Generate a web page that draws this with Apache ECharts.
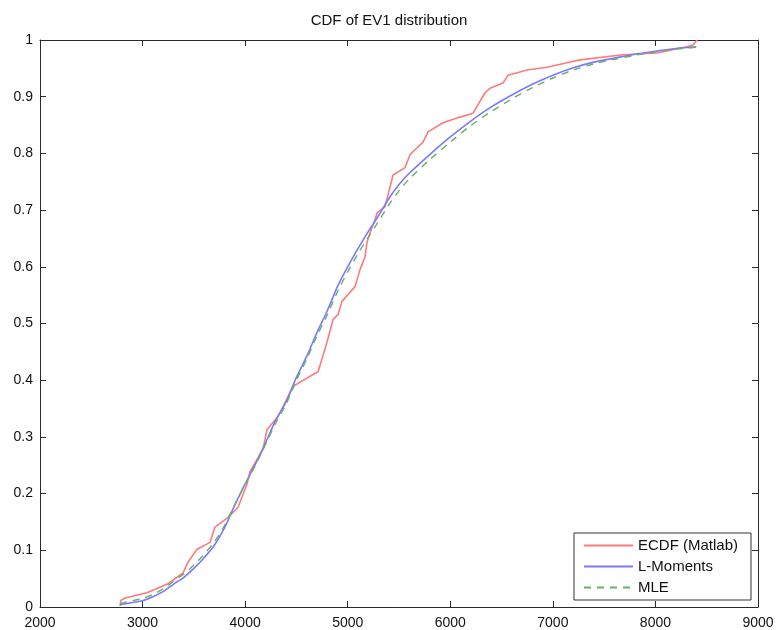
<!DOCTYPE html>
<html>
<head>
<meta charset="utf-8">
<script src="https://cdn.jsdelivr.net/npm/echarts@6/dist/echarts.min.js"></script>
<style>
html,body{margin:0;padding:0;background:#fff;}
#chart{width:778px;height:630px;}
</style>
</head>
<body>
<div id="chart"></div>
<script>
// ECDF (Matlab)
var ecdfX = [2780, 2790, 2830, 3043, 3238, 3394, 3443, 3531, 3658, 3706, 3833, 3931, 4018, 4048, 4174, 4213, 4321, 4467, 4662, 4711, 4798, 4857, 4906, 4944, 5003, 5071, 5120, 5169, 5188, 5218, 5266, 5286, 5364, 5442, 5559, 5608, 5734, 5783, 5929, 6095, 6222, 6339, 6388, 6514, 6563, 6748, 6943, 7138, 7265, 7684, 8016, 8308, 8367, 8406];
var ecdfY = [0.002, 0.012, 0.016, 0.025, 0.040, 0.060, 0.079, 0.102, 0.114, 0.141, 0.158, 0.176, 0.217, 0.239, 0.278, 0.313, 0.336, 0.389, 0.410, 0.415, 0.467, 0.507, 0.516, 0.539, 0.551, 0.565, 0.595, 0.618, 0.643, 0.660, 0.683, 0.695, 0.706, 0.762, 0.775, 0.798, 0.820, 0.838, 0.854, 0.864, 0.871, 0.907, 0.915, 0.924, 0.938, 0.947, 0.952, 0.960, 0.965, 0.974, 0.977, 0.988, 0.991, 1.000];

// L-Moments fitted CDF
var lmX = [2780, 2900, 3000, 3100, 3200, 3300, 3400, 3500, 3600, 3700, 3800, 3900, 4000, 4100, 4200, 4300, 4400, 4500, 4600, 4700, 4800, 4900, 5000, 5100, 5200, 5300, 5400, 5500, 5600, 5800, 6000, 6200, 6400, 6600, 6800, 7000, 7200, 7400, 7600, 7800, 8000, 8200, 8400];
var lmY = [0.004, 0.008, 0.011, 0.018, 0.027, 0.040, 0.052, 0.068, 0.087, 0.109, 0.140, 0.180, 0.217, 0.252, 0.290, 0.330, 0.362, 0.405, 0.442, 0.484, 0.522, 0.565, 0.600, 0.632, 0.662, 0.690, 0.720, 0.745, 0.765, 0.798, 0.829, 0.857, 0.882, 0.903, 0.922, 0.938, 0.951, 0.961, 0.968, 0.975, 0.980, 0.985, 0.988];

// MLE fitted CDF
var mleX = [2780, 2900, 3000, 3100, 3200, 3300, 3400, 3500, 3600, 3700, 3800, 3900, 4000, 4100, 4200, 4300, 4400, 4500, 4600, 4700, 4800, 4900, 5000, 5100, 5200, 5300, 5400, 5500, 5600, 5800, 6000, 6200, 6400, 6600, 6800, 7000, 7200, 7400, 7600, 7800, 8000, 8200, 8400];
var mleY = [0.006, 0.011, 0.015, 0.022, 0.032, 0.045, 0.058, 0.074, 0.093, 0.115, 0.144, 0.181, 0.216, 0.250, 0.287, 0.325, 0.358, 0.400, 0.437, 0.478, 0.515, 0.556, 0.591, 0.623, 0.652, 0.680, 0.709, 0.734, 0.755, 0.789, 0.820, 0.849, 0.874, 0.896, 0.916, 0.933, 0.947, 0.958, 0.966, 0.973, 0.979, 0.984, 0.987];

var seriesNames = ['ECDF (Matlab)', 'L-Moments', 'MLE'];
var titleText = 'CDF of EV1 distribution';

function pairs(xs, ys) {
  var out = [];
  for (var i = 0; i < xs.length; i++) out.push([xs[i], ys[i]]);
  return out;
}

var axisCol = '#2b2b2b';
var font = 'Liberation Sans, Arial, Helvetica, sans-serif';

var chart = echarts.init(document.getElementById('chart'), null, {renderer: 'canvas'});
chart.setOption({
  backgroundColor: '#ffffff',
  animation: false,
  title: {
    text: titleText,
    left: 'center',
    top: 13,
    padding: 0,
    textStyle: {fontFamily: font, fontSize: 15, fontWeight: 'normal', color: '#111'}
  },
  grid: {left: 40, right: 20, top: 40, bottom: 22, containLabel: false},
  legend: {
    show: true,
    orient: 'vertical',
    right: 27,
    bottom: 30,
    padding: [5, 13, 5, 9],
    itemGap: 6,
    itemWidth: 49,
    itemHeight: 14,
    backgroundColor: '#ffffff',
    borderColor: '#333',
    borderWidth: 1,
    borderRadius: 0,
    itemStyle: {opacity: 0},
    textStyle: {fontFamily: font, fontSize: 15, color: '#111'},
    data: seriesNames
  },
  xAxis: [{
    type: 'value', min: 2000, max: 9000, interval: 1000, position: 'bottom',
    axisLine: {show: true, onZero: false, lineStyle: {color: axisCol, width: 1}},
    axisTick: {show: true, inside: true, length: 6, lineStyle: {color: axisCol}},
    axisLabel: {margin: 9, fontFamily: font, fontSize: 14, color: '#111',
      formatter: function (v) { return String(v); }},
    splitLine: {show: false}
  }, {
    type: 'value', min: 2000, max: 9000, interval: 1000, position: 'top',
    axisLine: {show: true, onZero: false, lineStyle: {color: axisCol, width: 1}},
    axisTick: {show: true, inside: true, length: 6, lineStyle: {color: axisCol}},
    axisLabel: {show: false},
    splitLine: {show: false}
  }],
  yAxis: [{
    type: 'value', min: 0, max: 1, interval: 0.1, position: 'left',
    axisLine: {show: true, onZero: false, lineStyle: {color: axisCol, width: 1}},
    axisTick: {show: true, inside: true, length: 6, lineStyle: {color: axisCol}},
    axisLabel: {margin: 7, fontFamily: font, fontSize: 14, color: '#111',
      formatter: function (v) { return String(Math.round(v * 10) / 10); }},
    splitLine: {show: false}
  }, {
    type: 'value', min: 0, max: 1, interval: 0.1, position: 'right',
    axisLine: {show: true, onZero: false, lineStyle: {color: axisCol, width: 1}},
    axisTick: {show: true, inside: true, length: 6, lineStyle: {color: axisCol}},
    axisLabel: {show: false},
    splitLine: {show: false}
  }],
  series: [
    {
      name: seriesNames[0], type: 'line', xAxisIndex: 0, yAxisIndex: 0,
      data: pairs(ecdfX, ecdfY), showSymbol: false, symbol: 'none',
      color: '#ff6a6a',
      lineStyle: {color: '#ff7a7a', width: 1.6}, z: 3
    },
    {
      name: seriesNames[1], type: 'line', xAxisIndex: 0, yAxisIndex: 0,
      data: pairs(lmX, lmY), showSymbol: false, symbol: 'none', smooth: 0.3,
      color: '#5a5aff',
      lineStyle: {color: '#7a7aff', width: 1.6}, z: 4
    },
    {
      name: seriesNames[2], type: 'line', xAxisIndex: 0, yAxisIndex: 0,
      data: pairs(mleX, mleY), showSymbol: false, symbol: 'none', smooth: 0.3,
      color: '#4aa84a',
      lineStyle: {color: '#68b068', width: 1.4, type: [7, 6]}, z: 5
    }
  ]
});
</script>
</body>
</html>
